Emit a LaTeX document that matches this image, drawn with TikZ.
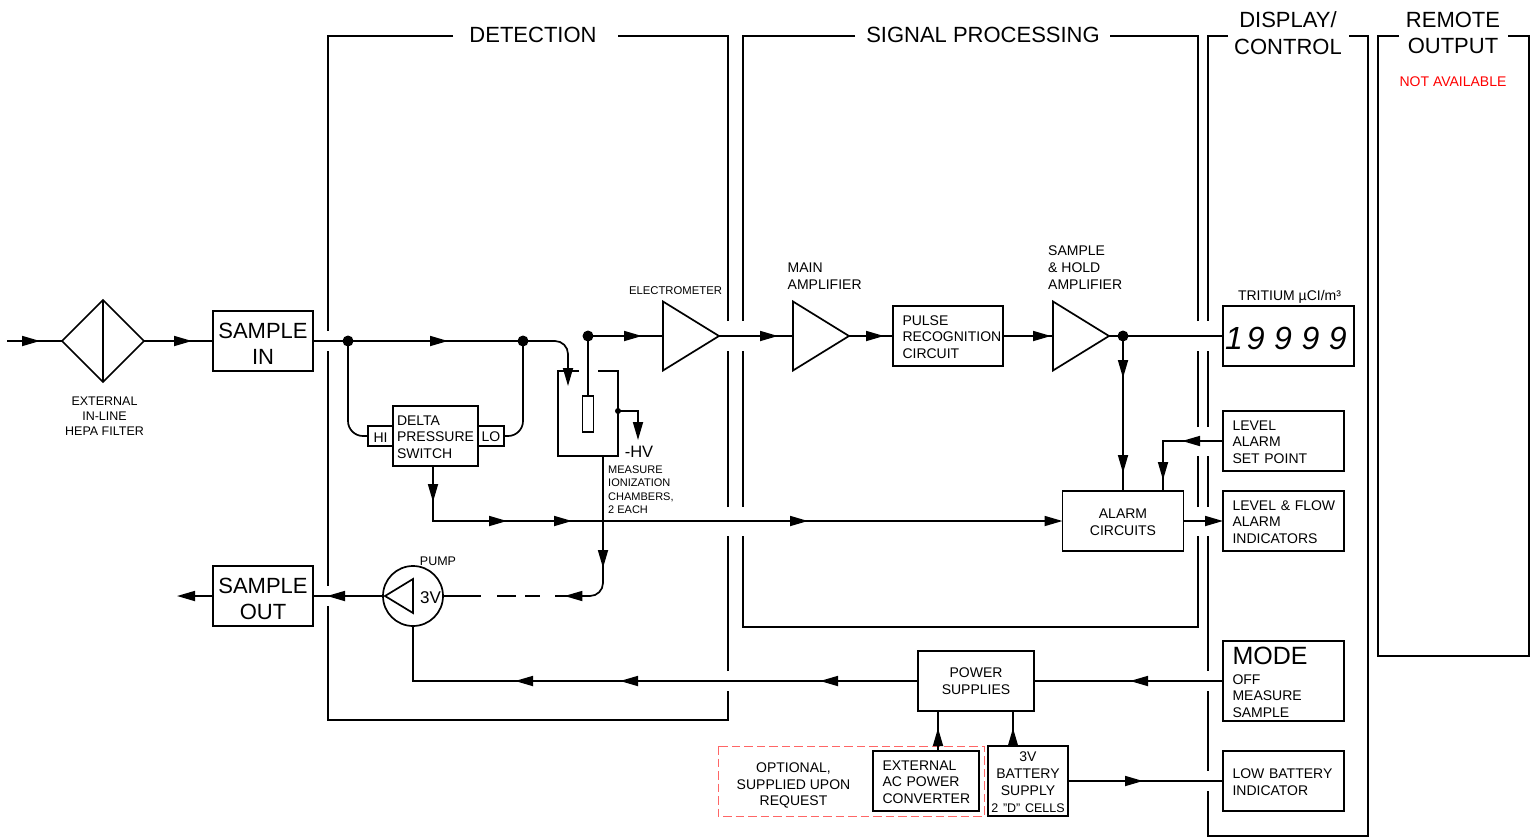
\documentclass[tikz,border=0pt]{standalone}
\usepackage{fontspec}
\setmainfont{Liberation Sans}
\usetikzlibrary{arrows.meta,decorations.markings,shapes.geometric}

\begin{document}
\begin{tikzpicture}[x=1pt, y=-1pt,
    flowhead/.tip={Triangle[length=18pt, width=10pt]},
    flow/.style={line width=1.7pt, black},
    tipat/.style={postaction={decorate, decoration={markings,
        mark=at position #1 with {\arrow{flowhead}}}}},
    frame/.style={line width=1.7pt, black},
    bigtext/.style={font=\fontsize{22}{26.5}\selectfont},
    midtext/.style={font=\fontsize{14}{16.8}\selectfont},
    smalltext/.style={font=\fontsize{12.5}{15}\selectfont},
    tinytext/.style={font=\fontsize{11}{13.4}\selectfont},
    caption/.style={midtext, inner sep=0pt, align=left},
    fixline/.style={execute at begin node={\hyphenpenalty=10000\rule{0pt}{#1}}},
    box/.style={draw, line width=1.7pt, inner sep=0pt, outer sep=0pt, midtext,
                align=center, fixline=12pt},
    lbox/.style={box, align=left, inner xsep=9.5pt, text width=#1},
    amp/.style={draw, line width=1.7pt, isosceles triangle, isosceles triangle stretches,
                inner sep=0pt, outer sep=0pt, minimum width=69pt, minimum height=56pt,
                anchor=lower side},
    dot/.style={circle, fill=black, inner sep=0pt, minimum size=11pt}]
    \useasboundingbox (0,0) rectangle (1538,838);

    % section frames
    \draw[frame] (453,36) -- (328,36) -- (328,331) (328,351) -- (328,586)
                 (328,606) -- (328,720) -- (728,720) -- (728,691) (728,671) -- (728,536)
                 (728,507) -- (728,351) (728,321) -- (728,36) -- (618,36);
    \draw[frame] (855,36) -- (743,36) -- (743,321) (743,351) -- (743,507)
                 (743,536) -- (743,627) -- (1198,627) -- (1198,536) (1198,507) -- (1198,456)
                 (1198,427) -- (1198,351) (1198,321) -- (1198,36) -- (1110,36);
    \draw[frame] (1228,36) -- (1208,36) -- (1208,321) (1208,351) -- (1208,427)
                 (1208,456) -- (1208,507) (1208,536) -- (1208,671) (1208,691) -- (1208,771)
                 (1208,791) -- (1208,836) -- (1368,836) -- (1368,36) -- (1349,36);
    \draw[frame] (1399,36) -- (1378,36) -- (1378,656) -- (1529,656) -- (1529,36) -- (1508,36);
    \node[bigtext] (detection) at (533,35) {DETECTION};
    \node[bigtext] (signal) at (983,35) {SIGNAL PROCESSING};
    \node[bigtext, align=center] (display) at (1288,33) {DISPLAY/\\CONTROL};
    \node[bigtext, align=center] (remote) at (1453,33) {REMOTE\\OUTPUT};
    \node[midtext, text=red] (notavail) at (1453,82) {NOT AVAILABLE};

    % sample path
    \coordinate (inEnd) at (7,341);
    \coordinate (outEnd) at (177,596);
    \node[draw, line width=1.7pt, diamond, inner sep=0pt, outer sep=0pt,
          minimum width=82pt, minimum height=82pt] (filter) at (103,341) {};
    \node[smalltext, align=center, inner sep=0pt] (filterText) at (104.5,416) {EXTERNAL\\IN-LINE\\HEPA FILTER};
    \node[box, bigtext, fixline=21pt, text width=100pt, minimum height=60pt] (sampleIn) at (263,341) {SAMPLE\\IN};
    \node[box, bigtext, fixline=21pt, text width=100pt, minimum height=60pt] (sampleOut) at (263,596) {SAMPLE\\OUT};
    \node[dot] (dotA) at (348,341) {};
    \node[dot] (dotB) at (523,341) {};
    \draw[flow] (filter.north) -- (filter.south);
    \draw[flow, tipat=33pt] (inEnd) -- (filter.west);
    \draw[flow, tipat=48pt] (filter.east) -- (sampleIn.west);
    \draw[flow] (sampleIn.east) -- (dotA.center);
    \draw[flow, tipat=100pt] (dotA.center) -- (dotB.center);

    % delta pressure switch
    \node[lbox=77pt, inner xsep=4pt, minimum height=60pt] (delta) at (435.5,436) {DELTA\\PRESSURE\\SWITCH};
    \node[box, minimum width=25pt, minimum height=20pt] (hi) at (380.5,436) {HI};
    \node[box, minimum width=26pt, minimum height=20pt] (lo) at (491,436) {LO};
    \coordinate (deltaOut) at (433,466);
    \draw[flow, rounded corners=15pt] (dotA.center) |- (hi.west);
    \draw[flow, rounded corners=15pt] (dotB.center) |- (lo.east);

    % ionization chamber
    \coordinate (chamberIn) at (568,386);
    \coordinate (chamberOut) at (603,456);
    \coordinate (hvEnd) at (638,440);
    \coordinate (dashEnd) at (555,596);
    \draw[frame] (579,371) -- (558,371) -- (558,456) -- (618,456) -- (618,371) -- (598,371);
    \node[box, minimum width=11pt, minimum height=36pt] (collector) at (588,414) {};
    \node[dot] (dotC) at (588,336) {};
    \node[dot, minimum size=6pt] (dotHv) at (618,411) {};
    \node[font=\fontsize{16.5}{18}\selectfont, inner sep=0pt] (hv) at (639,452) {-HV};
    \node[tinytext, inner sep=0pt, align=left, anchor=north west] (chamberText) at (608,465.5) {MEASURE\\IONIZATION\\CHAMBERS,\\2 EACH};
    \draw[flow, rounded corners=13pt, -flowhead] (dotB.center) -| (chamberIn);
    \draw[flow] (dotC.center) -- (collector.north);
    \draw[flow, -flowhead] (dotHv.center) -| (hvEnd);

    % pump
    \node[draw, line width=1.7pt, circle, inner sep=0pt, outer sep=0pt, minimum size=60pt] (pump) at (413,596) {};
    \node[draw, line width=1.7pt, isosceles triangle, isosceles triangle stretches, shape border rotate=180,
          inner sep=0pt, outer sep=0pt, minimum width=34pt, minimum height=28pt, anchor=apex] (pumpTri) at (385,596) {};
    \node[font=\fontsize{17}{18}\selectfont, inner sep=0pt] (pumpV) at (430.5,597.5) {3V};
    \node[smalltext, inner sep=0pt] (pumpText) at (438,561) {PUMP};
    \draw[flow, rounded corners=13pt, tipat=112pt, tipat=173pt] (chamberOut) |- (dashEnd);
    \draw[flow, dash pattern=on 38pt off 16pt on 19pt off 9pt on 15pt off 15pt on 100pt] (pump.east) -- (dashEnd);
    \draw[flow, tipat=56pt] (pump.west) -- (sampleOut.east);
    \draw[flow, -flowhead] (sampleOut.west) -- (outEnd);

    % signal chain
    \node[amp] (electrometer) at (663,336) {};
    \node[amp] (mainAmp) at (793,336) {};
    \node[amp] (holdAmp) at (1053,336) {};
    \node[font=\fontsize{11.3}{13}\selectfont, inner sep=0pt] (elecText) at (675.5,291) {ELECTROMETER};
    \node[caption, anchor=north west] (mainText) at (787.5,263) {MAIN\\AMPLIFIER};
    \node[caption, anchor=north west] (holdText) at (1048,246) {SAMPLE\\\& HOLD\\AMPLIFIER};
    \node[lbox=91pt, minimum height=60pt] (pulse) at (948,336) {PULSE\\RECOGNITION\\CIRCUIT};
    \node[dot] (dotD) at (1123,336) {};
    % display digits
    \node[box, fixline=28pt, align=left, inner xsep=2pt, minimum height=60pt, text width=127pt,
          font=\fontsize{32}{32}\selectfont\itshape\addfontfeature{LetterSpace=30}] (displayBox) at (1288.5,336) {1\kern4pt 9999};
    \node[midtext, inner sep=0pt] (tritium) at (1289.5,296.5) {TRITIUM µCI/m³};
    \draw[flow, tipat=54pt] (dotC.center) -- (electrometer.lower side);
    \draw[flow, tipat=59pt] (electrometer.apex) -- (mainAmp.lower side);
    \draw[flow, tipat=35pt] (mainAmp.apex) -- (pulse.west);
    \draw[flow, tipat=48pt] (pulse.east) -- (holdAmp.lower side);
    \draw[flow] (holdAmp.apex) -- (dotD.center);
    \draw[flow] (dotD.center) -- (displayBox.west);

    % alarm part
    \node[box, text width=121pt, minimum height=60pt] (alarm) at (1123,521) {ALARM\\CIRCUITS};
    \node[lbox=102pt, minimum height=60pt] (levelSet) at (1283.5,441) {LEVEL\\ALARM\\SET POINT};
    \node[lbox=102pt, minimum height=60pt] (levelFlow) at (1283.5,521) {\mbox{LEVEL \& FLOW}\\ALARM\\INDICATORS};
    \coordinate (alarmIn) at (1163,491);
    \draw[flow, tipat=42pt, tipat=137pt] (dotD.center) -- (alarm.north);
    \draw[flow, tipat=41pt, tipat=99pt] (levelSet.west) -| (alarmIn);
    \draw[flow, -flowhead] (alarm.east) -- (levelFlow.west);
    \draw[flow, tipat=36pt, tipat=129pt, tipat=194pt, tipat=430pt, -flowhead] (deltaOut) |- (alarm.west);

    % power part
    \node[box, fixline=10pt, minimum width=116pt, minimum height=60pt] (power) at (976,681) {POWER\\SUPPLIES};
    \node[lbox=102pt, fixline=20pt, minimum height=80pt] (mode) at (1283.5,681) {{\fontsize{25}{26}\selectfont MODE}\\[3pt]OFF\\MEASURE\\SAMPLE};
    \node[lbox=102pt, minimum height=60pt] (lowBatt) at (1283.5,781) {LOW BATTERY\\INDICATOR};
    \node[lbox=87pt, minimum height=60pt] (converter) at (926,781) {EXTERNAL\\AC POWER\\CONVERTER};
    \node[box, fixline=10pt, text width=80pt, minimum height=70pt] (battery) at (1028,781) {3V\\BATTERY\\SUPPLY\\{\fontsize{12.5}{15}\selectfont 2 "D" CELLS}};
    \draw[red!60, line width=0.7pt, dash pattern=on 8.5pt off 4pt] (718,746) rectangle (984,816);
    \node[midtext, align=center, inner sep=0pt] (optional) at (793.5,785.5) {OPTIONAL,\\SUPPLIED UPON\\REQUEST};
    \coordinate (convOut) at (938,751);
    \coordinate (convIn) at (938,711);
    \coordinate (battOut) at (1013,746);
    \coordinate (battIn) at (1013,711);
    \draw[flow, tipat=23pt] (convOut) -- (convIn);
    \draw[flow, tipat=18pt] (battOut) -- (battIn);
    \draw[flow, tipat=93pt] (mode.west) -- (power.east);
    \draw[flow, tipat=98pt, tipat=298pt, tipat=403pt] (power.west) -| (pump.south);
    \draw[flow, tipat=75pt] (battery.east) -- (lowBatt.west);
\end{tikzpicture}
\end{document}
